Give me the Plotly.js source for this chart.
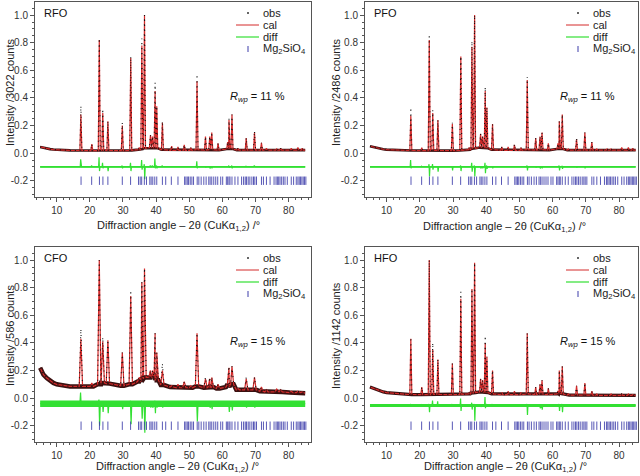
<!DOCTYPE html>
<html><head><meta charset="utf-8">
<script src="https://cdn.plot.ly/plotly-3.0.1.min.js"></script>
<style>html,body{margin:0;padding:0;background:#fff}#chart{width:640px;height:476px}</style>
</head><body><div id="chart"></div>
<script>
// ---------- data ----------
const samples = ['RFO', 'PFO', 'CFO', 'HFO'];
const yTitles = ['Intensity /3022 counts', 'Intensity /2486 counts', 'Intensity /586 counts', 'Intensity /1142 counts'];
const rwpValues = ['11 %', '11 %', '15 %', '15 %'];
const xTickVals = [10, 20, 30, 40, 50, 60, 70, 80];
const yTickVals = [-0.2, 0.0, 0.2, 0.4, 0.6, 0.8, 1.0];
const dataEnd = 85;

// peak positions (2theta, deg)
const peakPos = [17.3, 20.6, 22.85, 23.9, 25.45, 29.8, 32.35, 34.9, 35.7, 36.5, 38.3, 38.9, 39.7, 40.2, 41.9, 44.7, 46.6, 48.5, 50.5, 52.35, 54.9, 56.2, 56.8, 58.7, 61.6, 62.0, 62.9, 64.7, 67.2, 69.7, 71.8, 73.3, 76.4, 77.6, 80.8, 82.8, 84.1];

// Mg2SiO4 reflection markers
const reflections = [17.35, 20.55, 22.9, 23.95, 25.45, 29.8, 32.3, 34.7, 35.2, 35.65, 36.45, 37.1, 38.1, 38.5, 39.0, 39.6, 40.2, 41.9, 42.9, 44.6, 46.6, 48.6, 49.0, 49.4, 49.8, 50.3, 50.8, 51.3, 52.4, 52.9, 53.6, 54.4, 55.1, 55.9, 56.3, 56.8, 57.4, 58.0, 58.6, 59.5, 60.1, 61.2, 61.6, 62.0, 62.3, 62.9, 63.8, 64.7, 65.8, 66.4, 66.9, 67.3, 67.8, 68.3, 68.9, 69.4, 69.8, 70.3, 71.8, 72.4, 73.3, 74.4, 75.6, 76.2, 76.6, 77.0, 77.4, 77.9, 78.4, 78.9, 79.6, 80.8, 81.5, 82.3, 82.8, 83.2, 83.6, 84.0, 84.4, 84.8, 85.2];
const reflLevel = -0.2;

// low-angle background
const startX = [5, 5.5, 6, 7, 8, 9, 10, 12, 14, 16];

// RFO
const rfoStart = [0.045, 0.042, 0.038, 0.033, 0.029, 0.026, 0.024, 0.021, 0.020, 0.019];
const rfoCal = [0.28, 0.065, 0.82, 0.29, 0.23, 0.20, 0.69, 0.04, 0.78, 1.00, 0.13, 0.12, 0.45, 0.34, 0.22, 0.05, 0.045, 0.06, 0.04, 0.52, 0.12, 0.12, 0.15, 0.07, 0.08, 0.24, 0.28, 0.035, 0.11, 0.15, 0.075, 0.035, 0.03, 0.035, 0.035, 0.04, 0.035];
const rfoObs = [0.34, 0.065, 0.83, 0.32, 0.23, 0.22, 0.70, 0.04, 0.83, 1.00, 0.13, 0.12, 0.51, 0.34, 0.23, 0.05, 0.045, 0.06, 0.04, 0.57, 0.12, 0.12, 0.15, 0.07, 0.08, 0.25, 0.28, 0.035, 0.11, 0.16, 0.075, 0.035, 0.03, 0.035, 0.035, 0.04, 0.035];
const rfoBase = [0.019, 0.018, 0.018, 0.02, 0.02, 0.018, 0.02, 0.025, 0.03, 0.035, 0.04, 0.04, 0.04, 0.035, 0.025, 0.02, 0.02, 0.02, 0.02, 0.025, 0.022, 0.025, 0.025, 0.022, 0.03, 0.035, 0.03, 0.022, 0.022, 0.022, 0.022, 0.022, 0.022, 0.022, 0.022, 0.022, 0.022];
const rfoEnd = 0.022;
const rfoDiffLevel = -0.1;
const rfoDiffA = [0.055, 0.01, 0.07, 0.03, 0, 0.01, 0.03, 0, 0.05, 0.02, 0.01, 0.01, 0.06, 0.01, 0.01, 0, 0, 0, 0, 0.04, 0.005, 0.005, 0.005, 0, 0, 0.01, 0.01, 0, 0.005, 0.01, 0, 0, 0, 0, 0, 0, 0];
const rfoDiffB = [0, 0, -0.03, -0.01, -0.03, -0.01, -0.03, 0, -0.02, -0.09, 0, 0, -0.01, -0.01, 0, 0, 0, 0, 0, -0.01, -0.005, -0.01, -0.01, 0, 0, -0.005, -0.01, 0, 0, 0, 0, 0, 0, 0, 0, 0, 0];

// PFO
const pfoStart = [0.05, 0.047, 0.043, 0.037, 0.032, 0.028, 0.025, 0.022, 0.02, 0.019];
const pfoCal = [0.27, 0.04, 0.82, 0.29, 0.24, 0.21, 0.70, 0.04, 0.77, 1.00, 0.14, 0.12, 0.45, 0.33, 0.21, 0.045, 0.045, 0.06, 0.04, 0.53, 0.11, 0.12, 0.15, 0.07, 0.07, 0.23, 0.28, 0.03, 0.10, 0.15, 0.08, 0.03, 0.03, 0.03, 0.04, 0.04, 0.035];
const pfoObs = [0.33, 0.04, 0.86, 0.31, 0.24, 0.22, 0.70, 0.04, 0.81, 1.00, 0.14, 0.12, 0.48, 0.33, 0.21, 0.045, 0.045, 0.065, 0.04, 0.55, 0.11, 0.12, 0.15, 0.07, 0.07, 0.23, 0.28, 0.03, 0.11, 0.15, 0.08, 0.03, 0.03, 0.03, 0.04, 0.04, 0.035];
const pfoBase = [0.019, 0.018, 0.018, 0.02, 0.02, 0.018, 0.02, 0.025, 0.03, 0.035, 0.04, 0.04, 0.04, 0.035, 0.025, 0.02, 0.02, 0.02, 0.02, 0.025, 0.022, 0.025, 0.025, 0.022, 0.03, 0.035, 0.03, 0.022, 0.022, 0.022, 0.022, 0.022, 0.022, 0.022, 0.022, 0.022, 0.022];
const pfoEnd = 0.022;
const pfoDiffLevel = -0.1;
const pfoDiffA = [0.05, 0.005, 0.02, 0.02, 0, 0.005, 0.01, 0, 0.03, 0.01, 0.005, 0.005, 0.03, 0.01, 0.005, 0, 0, 0, 0, 0.01, 0.005, 0.005, 0.005, 0, 0, 0.01, 0.005, 0, 0.005, 0.005, 0, 0, 0, 0, 0, 0, 0];
const pfoDiffB = [-0.01, 0, -0.07, -0.02, -0.035, -0.025, -0.03, 0, -0.035, -0.07, -0.01, -0.01, -0.045, -0.015, -0.01, 0, 0, 0, 0, -0.025, -0.005, -0.01, -0.01, 0, 0, -0.025, -0.015, 0, -0.005, -0.01, 0, 0, 0, 0, 0, 0, 0];

// CFO
const cfoStart = [0.22, 0.19, 0.17, 0.145, 0.125, 0.11, 0.10, 0.09, 0.085, 0.085];
const cfoCal = [0.43, 0.11, 1.00, 0.41, 0.42, 0.33, 0.74, 0.15, 0.84, 0.94, 0.20, 0.20, 0.47, 0.33, 0.20, 0.09, 0.10, 0.12, 0.09, 0.47, 0.14, 0.14, 0.15, 0.10, 0.12, 0.22, 0.23, 0.07, 0.14, 0.15, 0.08, 0.06, 0.065, 0.06, 0.05, 0.05, 0.045];
const cfoObs = [0.50, 0.11, 1.00, 0.44, 0.42, 0.33, 0.78, 0.15, 0.84, 0.94, 0.20, 0.20, 0.47, 0.33, 0.25, 0.09, 0.10, 0.12, 0.09, 0.47, 0.15, 0.15, 0.15, 0.10, 0.12, 0.23, 0.23, 0.07, 0.15, 0.15, 0.08, 0.06, 0.065, 0.06, 0.05, 0.05, 0.045];
const cfoBase = [0.085, 0.085, 0.10, 0.11, 0.105, 0.09, 0.10, 0.12, 0.14, 0.15, 0.15, 0.16, 0.16, 0.13, 0.095, 0.08, 0.075, 0.075, 0.075, 0.085, 0.075, 0.08, 0.08, 0.07, 0.08, 0.10, 0.10, 0.06, 0.06, 0.06, 0.05, 0.045, 0.045, 0.045, 0.04, 0.04, 0.04];
const cfoEnd = 0.035;
const cfoDiffLevel = -0.04;
const cfoDiffA = [0.08, 0.01, 0.03, 0.01, 0.01, 0.01, 0.02, 0.01, 0.02, 0.01, 0.01, 0.01, 0.02, 0.01, 0.01, 0.005, 0.005, 0.005, 0.005, 0.01, 0.005, 0.005, 0.005, 0.005, 0.005, 0.01, 0.01, 0, 0.005, 0.005, 0, 0, 0, 0, 0, 0, 0];
const cfoDiffB = [-0.02, -0.01, -0.16, -0.06, -0.07, -0.04, -0.15, -0.02, -0.11, -0.21, -0.03, -0.03, -0.07, -0.03, -0.03, -0.01, -0.01, -0.015, -0.01, -0.13, -0.02, -0.03, -0.04, -0.015, -0.02, -0.06, -0.05, -0.01, -0.03, -0.03, -0.01, 0, 0, 0, 0, 0, 0];

// HFO
const hfoStart = [0.08, 0.075, 0.07, 0.06, 0.05, 0.045, 0.04, 0.035, 0.03, 0.028];
const hfoCal = [0.43, 0.08, 1.00, 0.35, 0.28, 0.25, 0.72, 0.04, 0.79, 0.98, 0.14, 0.13, 0.40, 0.30, 0.20, 0.04, 0.05, 0.05, 0.04, 0.47, 0.08, 0.10, 0.13, 0.07, 0.05, 0.20, 0.23, 0.03, 0.09, 0.11, 0.05, 0.03, 0.02, 0.03, 0.03, 0.03, 0.025];
const hfoObs = [0.44, 0.08, 1.00, 0.40, 0.28, 0.25, 0.77, 0.04, 0.79, 0.98, 0.14, 0.13, 0.45, 0.30, 0.20, 0.04, 0.05, 0.05, 0.04, 0.47, 0.08, 0.10, 0.13, 0.07, 0.05, 0.20, 0.23, 0.03, 0.09, 0.11, 0.05, 0.03, 0.02, 0.03, 0.03, 0.03, 0.025];
const hfoBase = [0.026, 0.025, 0.025, 0.027, 0.027, 0.025, 0.027, 0.03, 0.035, 0.04, 0.045, 0.045, 0.045, 0.04, 0.03, 0.025, 0.025, 0.025, 0.025, 0.03, 0.025, 0.028, 0.028, 0.025, 0.03, 0.035, 0.03, 0.022, 0.022, 0.022, 0.022, 0.02, 0.02, 0.02, 0.02, 0.02, 0.02];
const hfoEnd = 0.02;
const hfoDiffLevel = -0.053;
const hfoDiffA = [0.01, 0.005, 0.01, 0.035, 0.03, 0.01, 0.05, 0, 0.02, 0.01, 0.005, 0.005, 0.06, 0.01, 0.01, 0, 0, 0, 0, 0.01, 0.005, 0.005, 0.005, 0, 0, 0.01, 0.01, 0, 0.005, 0.005, 0, 0, 0, 0, 0, 0, 0];
const hfoDiffB = [-0.01, 0, -0.05, -0.01, -0.01, -0.01, -0.04, 0, -0.03, -0.11, -0.01, -0.01, -0.02, -0.01, -0.01, 0, 0, 0, 0, -0.07, -0.01, -0.02, -0.03, -0.01, -0.01, -0.04, -0.05, 0, -0.01, -0.01, 0, 0, 0, 0, 0, 0, 0];

// ---------- styling ----------
const FONT = 'Liberation Sans, Arial, sans-serif';
const COL_CAL = '#d42a2a', COL_OBS = '#111111', COL_BAND = '#3a1010', COL_DIFF = '#33e033', COL_REFL = '#3c3caa';
const panels = [
  {start: rfoStart, cal: rfoCal, obs: rfoObs, base: rfoBase, end: rfoEnd, dl: rfoDiffLevel, dA: rfoDiffA, dB: rfoDiffB, w: 0.3, bandW: 2.6, diffBand: 1.8, sw: 0.07},
  {start: pfoStart, cal: pfoCal, obs: pfoObs, base: pfoBase, end: pfoEnd, dl: pfoDiffLevel, dA: pfoDiffA, dB: pfoDiffB, w: 0.3, bandW: 2.6, diffBand: 1.8, sw: 0.07},
  {start: cfoStart, cal: cfoCal, obs: cfoObs, base: cfoBase, end: cfoEnd, dl: cfoDiffLevel, dA: cfoDiffA, dB: cfoDiffB, w: 0.5, bandW: 4.5, diffBand: 6.5, sw: 0.1},
  {start: hfoStart, cal: hfoCal, obs: hfoObs, base: hfoBase, end: hfoEnd, dl: hfoDiffLevel, dA: hfoDiffA, dB: hfoDiffB, w: 0.3, bandW: 3.2, diffBand: 3.0, sw: 0.07}
];

function profile(p, h) {
  const pts = startX.map((x, i) => [x, p.start[i]]);
  peakPos.forEach((c, i) => {
    pts.push([c - p.w, p.base[i]]);
    pts.push([c, h[i]]);
    pts.push([c + p.w, p.base[i]]);
  });
  pts.push([dataEnd, p.end]);
  pts.sort((a, b) => a[0] - b[0]);
  return {x: pts.map(q => q[0]), y: pts.map(q => q[1])};
}
function diffProfile(p) {
  const pts = [[startX[0], p.dl]];
  peakPos.forEach((c, i) => {
    if (p.dA[i] === 0 && p.dB[i] === 0) return;
    pts.push([c - 3 * p.sw, p.dl]);
    pts.push([c - p.sw, p.dl + p.dA[i]]);
    pts.push([c + p.sw, p.dl + p.dB[i]]);
    pts.push([c + 3 * p.sw, p.dl]);
  });
  pts.push([dataEnd, p.dl]);
  pts.sort((a, b) => a[0] - b[0]);
  return {x: pts.map(q => q[0]), y: pts.map(q => q[1])};
}

// panel geometry in pixels (640 x 476)
const W = 640, H = 476;
const boxes = [
  {x0: 35, x1: 310.5, y0: 2, y1: 197, xr: [3.45, 86.6]},
  {x0: 365, x1: 638, y0: 2, y1: 197, xr: [3.5, 85.7]},
  {x0: 35, x1: 310.5, y0: 247, y1: 442, xr: [3.45, 86.6]},
  {x0: 365, x1: 638, y0: 247, y1: 442, xr: [3.5, 85.7]}
];
const yr = [-0.318, 1.095];

const traces = [];
const layout = {
  width: W, height: H, margin: {l: 0, r: 0, t: 0, b: 0},
  paper_bgcolor: '#fff', plot_bgcolor: '#fff', showlegend: false,
  font: {family: FONT, size: 10, color: '#333'},
  annotations: [], shapes: []
};

boxes.forEach((b, k) => {
  const n = k === 0 ? '' : String(k + 1);
  const xa = 'x' + n, ya = 'y' + n;
  const p = panels[k];
  const band = profile(p, p.base), cal = profile(p, p.cal), obs = profile(p, p.obs), dif = diffProfile(p);
  // dense noisy obs points along the background, drawn as a band
  traces.push({type: 'scatter', mode: 'lines', x: band.x, y: band.y, xaxis: xa, yaxis: ya,
    line: {color: COL_BAND, width: p.bandW}, hoverinfo: 'skip'});
  traces.push({type: 'scatter', mode: 'lines', x: cal.x, y: cal.y, xaxis: xa, yaxis: ya,
    line: {color: COL_CAL, width: 1.2}, hoverinfo: 'skip'});
  traces.push({type: 'scatter', mode: 'lines', x: obs.x, y: obs.y, xaxis: xa, yaxis: ya,
    line: {color: COL_OBS, width: 1.1, dash: '1px,4px'}, hoverinfo: 'skip'});
  // noisy difference band + spikes
  traces.push({type: 'scatter', mode: 'lines', x: [startX[0], dataEnd], y: [p.dl, p.dl], xaxis: xa, yaxis: ya,
    line: {color: COL_DIFF, width: p.diffBand}, hoverinfo: 'skip'});
  traces.push({type: 'scatter', mode: 'lines', x: dif.x, y: dif.y, xaxis: xa, yaxis: ya,
    line: {color: COL_DIFF, width: 1.2}, hoverinfo: 'skip'});
  traces.push({type: 'scatter', mode: 'markers', x: reflections, y: reflections.map(() => reflLevel), xaxis: xa, yaxis: ya,
    marker: {symbol: 'line-ns', size: 6, line: {color: COL_REFL, width: 1}}, opacity: 0.85, hoverinfo: 'skip'});

  const axBase = {showline: true, mirror: true, linecolor: '#555', linewidth: 1, showgrid: false, zeroline: false,
    ticks: 'outside', ticklen: 4, tickcolor: '#555', tickwidth: 1, tickfont: {family: FONT, size: 10, color: '#333'}};
  layout['xaxis' + n] = Object.assign({}, axBase, {
    domain: [b.x0 / W, b.x1 / W], range: b.xr, anchor: ya, tickvals: xTickVals, ticktext: xTickVals.map(String),
    minor: {dtick: 2, tick0: 0, ticks: 'outside', ticklen: 2, tickcolor: '#555'}
  });
  layout['yaxis' + n] = Object.assign({}, axBase, {
    domain: [1 - b.y1 / H, 1 - b.y0 / H], range: yr, anchor: xa, tickvals: yTickVals,
    ticktext: yTickVals.map(v => v.toFixed(1)),
    minor: {dtick: 0.05, tick0: 0, ticks: 'outside', ticklen: 2, tickcolor: '#555'}
  });

  const xd = xa + ' domain', yd = ya + ' domain';
  const pw = b.x1 - b.x0, ph = b.y1 - b.y0;
  const dx = px => px / pw, dy = px => px / ph;
  // sample label
  layout.annotations.push({xref: xd, yref: yd, x: dx(7), y: 1 - dy(11), xanchor: 'left', yanchor: 'middle',
    text: samples[k], showarrow: false, font: {family: FONT, size: 11, color: '#111'}});
  // Rwp
  layout.annotations.push({xref: xd, yref: yd, x: dx(193), y: 1 - dy(95), xanchor: 'left', yanchor: 'middle',
    text: '<i>R</i><sub><i>wp</i></sub> = ' + rwpValues[k], showarrow: false, font: {family: FONT, size: 11, color: '#111'}});
  // manual legend
  const legX = dx(226), symX = dx(213), lineX0 = dx(201), lineX1 = dx(224);
  const rows = [11, 23, 35, 47];
  const labels = ['obs', 'cal', 'diff', 'Mg<sub>2</sub>SiO<sub>4</sub>'];
  rows.forEach((r, i) => {
    layout.annotations.push({xref: xd, yref: yd, x: legX, y: 1 - dy(r), xanchor: 'left', yanchor: 'middle',
      text: labels[i], showarrow: false, font: {family: FONT, size: 11, color: '#222'}});
  });
  layout.shapes.push({type: 'circle', xref: xd, yref: yd, x0: symX - dx(1), x1: symX + dx(1), y0: 1 - dy(rows[0] + 1), y1: 1 - dy(rows[0] - 1),
    fillcolor: '#333', line: {width: 0}});
  layout.shapes.push({type: 'line', xref: xd, yref: yd, x0: lineX0, x1: lineX1, y0: 1 - dy(rows[1]), y1: 1 - dy(rows[1]),
    line: {color: COL_CAL, width: 1}});
  layout.shapes.push({type: 'line', xref: xd, yref: yd, x0: lineX0, x1: lineX1, y0: 1 - dy(rows[2]), y1: 1 - dy(rows[2]),
    line: {color: COL_DIFF, width: 1.2}});
  layout.shapes.push({type: 'line', xref: xd, yref: yd, x0: symX, x1: symX, y0: 1 - dy(rows[3] - 3), y1: 1 - dy(rows[3] + 3),
    line: {color: COL_REFL, width: 1}});
});

// axis titles as annotations
const xTitle = 'Diffraction angle \u2013 2\u03b8 (CuK\u03b1<sub>1,2</sub>) /\u00b0';
[[178, 226], [504, 227], [177, 467], [505, 467]].forEach(([x, y]) => {
  layout.annotations.push({xref: 'paper', yref: 'paper', x: x / W, y: 1 - y / H, xanchor: 'center', yanchor: 'middle',
    text: xTitle, showarrow: false, font: {family: FONT, size: 11, color: '#222'}});
});
[[10, 92], [336, 92], [10, 336], [336, 336]].forEach(([x, y], k) => {
  layout.annotations.push({xref: 'paper', yref: 'paper', x: x / W, y: 1 - y / H, xanchor: 'center', yanchor: 'middle',
    text: yTitles[k], textangle: -90, showarrow: false, font: {family: FONT, size: 11, color: '#222'}});
});

Plotly.newPlot('chart', traces, layout, {staticPlot: true, displayModeBar: false});
</script>
</body></html>
